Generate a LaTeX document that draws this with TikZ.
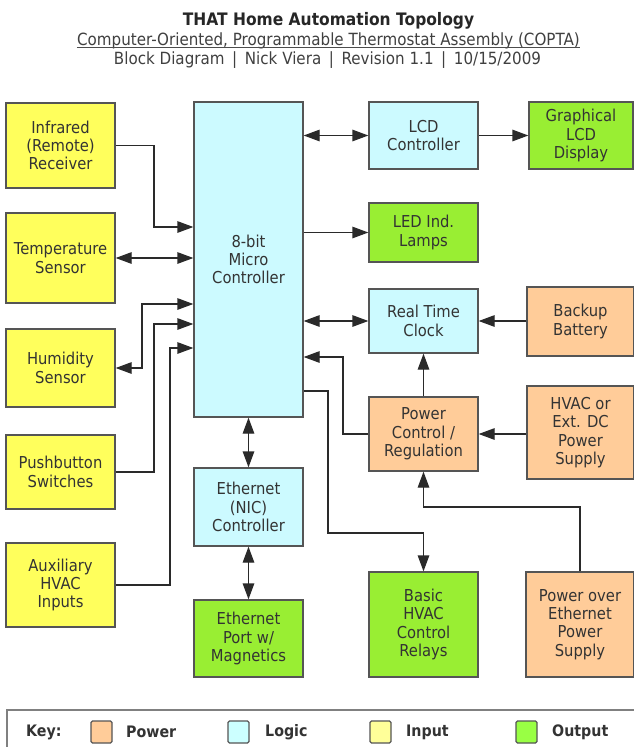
\documentclass[tikz,border=0pt]{standalone}
\usepackage{fontspec}
\setmainfont{DejaVu Sans}[FakeStretch=0.9]
\usetikzlibrary{arrows.meta}
\definecolor{cin}{HTML}{FFFF5C}
\definecolor{clog}{HTML}{CCFAFF}
\definecolor{cout}{HTML}{99EE33}
\definecolor{cpow}{HTML}{FFCC99}
\definecolor{kin}{HTML}{FFFF99}
\definecolor{klog}{HTML}{CCFFFF}
\definecolor{kout}{HTML}{99FF44}
\definecolor{kpow}{HTML}{FFCC99}
\definecolor{cline}{HTML}{2A2A2A}
\definecolor{cborder}{HTML}{555555}
\definecolor{ctext}{HTML}{333333}
\definecolor{ckey}{HTML}{808080}
\begin{document}
\begin{tikzpicture}[x=1pt,y=-1pt,
  blk/.style={draw=cborder, line width=1.3pt, inner sep=0pt, align=center,
    text=ctext, font=\fontsize{16.4}{18.3}\selectfont},
  inp/.style={blk, fill=cin},
  logc/.style={blk, fill=clog},
  outp/.style={blk, fill=cout},
  powr/.style={blk, fill=cpow},
  wire/.style={draw=cline, line width=1.3pt},
  arr/.style={wire, -{Triangle[length=16pt,width=11.5pt]}},
  darr/.style={wire, {Triangle[length=16pt,width=11.5pt]}-{Triangle[length=16pt,width=11.5pt]}},
  swatch/.style={draw=cborder, line width=1.2pt, rounded corners=1.5pt,
    minimum width=21pt, minimum height=22pt, inner sep=0pt},
  keytext/.style={anchor=west, text=ctext, inner sep=0pt,
    font=\fontsize{15.8}{18}\selectfont\bfseries},
]
\useasboundingbox (0,0) rectangle (634,747);
\fill[white] (0,0) rectangle (634,747);

% titles
\node[anchor=base, inner sep=0pt, text=black!85, font=\fontsize{17.2}{20}\selectfont\bfseries] (title) at (328.5,25) {THAT Home Automation Topology};
\node[anchor=base, inner sep=0pt, text=black!75, font=\fontsize{16.8}{20}\selectfont] (sub) at (328.5,45) {Computer-Oriented, Programmable Thermostat Assembly (COPTA)};
\draw[black!70, line width=0.9pt] (sub.base west) ++(0,2.5) -- ([yshift=-2.5pt]sub.base east);
\node[anchor=base, inner sep=0pt, text=black!75, font=\fontsize{16.8}{20}\selectfont] (info) at (327.5,64) {Block Diagram \,|\, Nick Viera \,|\, Revision 1.1 \,|\, 10/15/2009};

% inputs
\node[inp, minimum width=109pt, minimum height=85pt] (ir) at (60.5,145.5) {Infrared\\(Remote)\\Receiver};
\node[inp, minimum width=109pt, minimum height=90pt] (temp) at (60.5,258) {Temperature\\Sensor};
\node[inp, minimum width=109pt, minimum height=78pt] (hum) at (60.5,368) {Humidity\\Sensor};
\node[inp, minimum width=109pt, minimum height=74pt] (push) at (60.5,472) {Pushbutton\\Switches};
\node[inp, minimum width=109pt, minimum height=84pt] (aux) at (60.5,585) {Auxiliary\\HVAC\\Inputs};

% logic
\node[logc, minimum width=109pt, minimum height=315pt] (mc) at (248.5,259.5) {8-bit\\Micro\\Controller};
\node[logc, minimum width=109pt, minimum height=67pt] (lcd) at (423.5,135.5) {LCD\\Controller};
\node[logc, minimum width=109pt, minimum height=64pt] (rtc) at (423.5,321) {Real Time\\Clock};
\node[logc, minimum width=109pt, minimum height=78pt] (nic) at (248.5,507) {Ethernet\\(NIC)\\Controller};

% outputs
\node[outp, minimum width=104pt, minimum height=67pt] (glcd) at (581,135.5) {Graphical\\LCD\\Display};
\node[outp, minimum width=109pt, minimum height=59pt] (led) at (423.5,232.5) {LED Ind.\\Lamps};
\node[outp, minimum width=109pt, minimum height=77pt] (port) at (248.5,638.5) {Ethernet\\Port w/\\Magnetics};
\node[outp, minimum width=109pt, minimum height=105pt] (relay) at (423.5,624.5) {Basic\\HVAC\\Control\\Relays};

% power
\node[powr, minimum width=107pt, minimum height=69pt] (bat) at (580.5,321.5) {Backup\\Battery};
\node[powr, minimum width=107pt, minimum height=93pt] (hvac) at (580.5,432.5) {HVAC or\\Ext. DC\\Power\\Supply};
\node[powr, minimum width=109pt, minimum height=74pt] (pc) at (423.5,434) {Power\\Control /\\Regulation};
\node[powr, minimum width=108pt, minimum height=105pt] (poe) at (580,624.5) {Power over\\Ethernet\\Power\\Supply};

% connectors: inputs to micro controller
\draw[arr] (ir.east) -- (154,145.5) |- (mc.west |- 0,227);
\draw[darr] (temp.east) -- (mc.west |- temp.east);
\draw[darr] (hum.east) -- (142,368) |- (mc.west |- 0,304);
\draw[arr] (push.east) -- (154,472) |- (mc.west |- 0,324);
\draw[arr] (aux.east) -- (170,585) |- (mc.west |- 0,348);

% micro controller to right side
\draw[darr] (mc.east |- lcd.west) -- (lcd.west);
\draw[arr] (lcd.east) -- (glcd.west);
\draw[arr] (mc.east |- led.west) -- (led.west);
\draw[darr] (mc.east |- rtc.west) -- (rtc.west);
\draw[arr] (bat.west |- rtc.east) -- (rtc.east);
\draw[arr] (pc.north) -- (rtc.south);
\draw[arr] (hvac.west |- pc.east) -- (pc.east);
\draw[arr] (pc.west) -- (343,434) |- (mc.east |- 0,357);
\draw[arr] (poe.north) |- (pc.south |- 0,507) -- (pc.south);
\draw[arr] (mc.east |- 0,391) -- (328,391) |- (relay.north |- 0,533) -- (relay.north);
\draw[darr] (mc.south) -- (nic.north);
\draw[darr] (nic.south) -- (port.north);

% key
\draw[ckey, line width=1.6pt] (7,770) -- (7,710) -- (660,710);
\node[keytext] (klab) at (26,732) {Key:};
\node[swatch, fill=kpow] (kp) at (101.5,732) {};
\node[keytext] (kpt) at (126,732) {Power};
\node[swatch, fill=klog] (kl) at (238.5,732) {};
\node[keytext] (klt) at (265,732) {Logic};
\node[swatch, fill=kin] (ki) at (380.5,732) {};
\node[keytext] (kit) at (406,732) {Input};
\node[swatch, fill=kout] (ko) at (526.5,732) {};
\node[keytext] (kot) at (552,732) {Output};
\end{tikzpicture}
\end{document}
